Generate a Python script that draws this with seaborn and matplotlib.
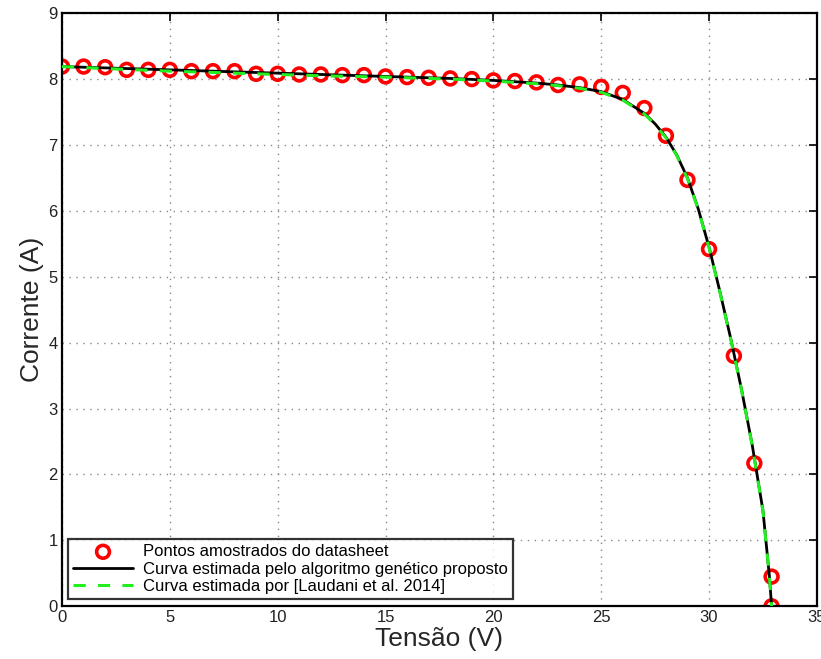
import numpy as np
import pandas as pd
import matplotlib
matplotlib.use("Agg")
import matplotlib.pyplot as plt
import seaborn as sns

# datasheet points
v_pts = [0, 1, 2, 3, 4, 5, 6, 7, 8, 9, 10, 11, 12, 13, 14, 15, 16, 17, 18, 19,
         20, 21, 22, 23, 24, 25, 26, 27, 28, 29, 30, 31.15, 32.1, 32.9, 32.9]
i_pts = [8.19, 8.19, 8.18, 8.14, 8.14, 8.14, 8.12, 8.12, 8.12, 8.08, 8.08, 8.07,
         8.07, 8.06, 8.06, 8.04, 8.03, 8.02, 8.01, 8.00, 7.98, 7.97, 7.95, 7.91,
         7.92, 7.88, 7.79, 7.56, 7.14, 6.47, 5.42, 3.80, 2.17, 0.45, 0.0]

# curve from the genetic algorithm
v_ga = [0, 2, 5, 8, 10, 12, 15, 18, 20, 22, 23, 24, 25, 26, 27, 27.5, 28, 28.5,
        29, 29.5, 30, 30.5, 31, 31.5, 32, 32.5, 32.8, 32.9]
i_ga = [8.19, 8.17, 8.14, 8.11, 8.09, 8.07, 8.04, 8.01, 7.98, 7.94, 7.91, 7.87,
        7.81, 7.69, 7.48, 7.32, 7.12, 6.85, 6.50, 6.03, 5.45, 4.78, 4.07, 3.30,
        2.45, 1.45, 0.45, 0.0]

# curve from Laudani et al. 2014
v_lau = v_ga
i_lau = [8.19, 8.16, 8.12, 8.09, 8.07, 8.05, 8.03, 8.00, 7.97, 7.93, 7.90, 7.86,
         7.80, 7.68, 7.47, 7.31, 7.11, 6.84, 6.49, 6.02, 5.44, 4.77, 4.06, 3.29,
         2.44, 1.44, 0.44, 0.0]

pts = pd.DataFrame({"v": v_pts, "i": i_pts})
ga = pd.DataFrame({"v": v_ga, "i": i_ga})
lau = pd.DataFrame({"v": v_lau, "i": i_lau})

sns.set_style("white")
plt.rcParams["font.family"] = ["Liberation Sans", "DejaVu Sans"]

fig = plt.figure(figsize=(8.21, 6.59), dpi=100)
ax = fig.add_axes([0.0755, 0.080, 0.9195, 0.900])

sns.scatterplot(data=pts, x="v", y="i", ax=ax, marker="o", s=85,
                facecolor="none", edgecolor="red", linewidth=2.6,
                label="Pontos amostrados do datasheet", zorder=2)
sns.lineplot(data=ga, x="v", y="i", ax=ax, color="black", linewidth=2,
             label="Curva estimada pelo algoritmo genético proposto",
             sort=False, estimator=None, zorder=3)
sns.lineplot(data=lau, x="v", y="i", ax=ax, color="#22ee22", linewidth=2.2,
             linestyle=(0, (4, 4)), sort=False, estimator=None,
             label="Curva estimada por [Laudani et al. 2014]", zorder=4)

ax.set_xlim(0, 35)
ax.set_ylim(0, 9)
ax.set_xticks(range(0, 36, 5))
ax.set_yticks(range(0, 10))
ax.grid(True, linestyle=(0, (1, 4)), color="#888888", linewidth=1)
ax.tick_params(direction="in", length=6, width=1.2, top=True, right=True,
               labelsize=12, colors="black", labelcolor="#222222", pad=3)
for sp in ax.spines.values():
    sp.set_color("black")
    sp.set_linewidth(1.6)

ax.set_xlabel("Tensão (V)", fontsize=19, labelpad=1)
ax.set_ylabel("Corrente (A)", fontsize=19, labelpad=3)

leg = ax.legend(loc="lower left", bbox_to_anchor=(0.008, 0.012), fontsize=12,
                frameon=True, fancybox=False, edgecolor="black",
                handlelength=3.6, borderpad=0.3, labelspacing=0.15,
                handletextpad=0.6, borderaxespad=0)
leg.get_frame().set_linewidth(1.6)
for t in leg.get_texts():
    t.set_color("black")

fig.savefig("out.png", dpi=100)
